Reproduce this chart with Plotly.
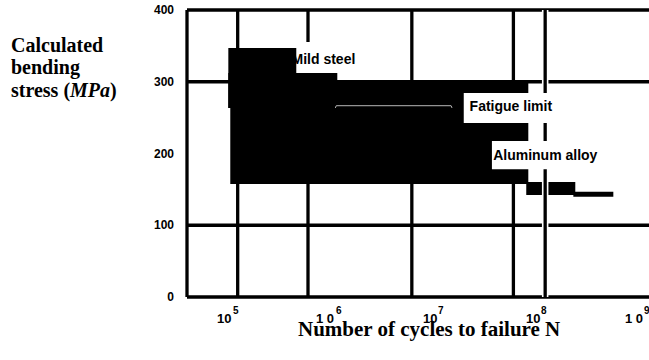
import plotly.graph_objects as go

# ---------------- data ----------------
y_tick_values = [0, 100, 200, 300, 400]
y_tick_labels = ["0", "100", "200", "300", "400"]
x_tick_exponents = [5, 6, 7, 8, 9]
x_tick_bases = ["10", "1 0", "10", "10", "1 0"]

h_grid_values = [300, 100]                       # MPa
v_grid_log = [5.071, 5.755, 6.765, 7.753]        # log10(N)
fatigue_line_log = 8.062                          # log10(N)

# filled (redacted) blocks: log10(N) extent, stress extent (MPa)
block_main_log = [4.999, 7.898]; block_main_mpa = [157.5, 300.5]
block_step_log = [4.980, 6.040]; block_step_mpa = [263.4, 312.2]
block_top_log = [4.980, 5.641];  block_top_mpa = [263.4, 347.0]
block_tail_log = [7.878, 8.355]; block_tail_mpa = [142.2, 160.3]
tail_line_log = [8.336, 8.725];  tail_line_mpa = [143.3, 143.3]
leader_log = [6.021, 6.030, 7.147, 7.156]; leader_mpa = [263.5, 266.6, 266.6, 263.5]

labels = ["Mild steel", "Fatigue limit", "Aluminum alloy"]
label_log = [5.905, 7.728, 8.063]
label_mpa = [330.3, 264.1, 196.1]
label_box_log = [[5.583, 6.284], [7.270, 8.210], [7.544, 8.629]]
label_box_mpa = [[312.2, 355.4], [242.5, 284.3], [178.0, 217.4]]

x_range_log = [4.578, 9.072]
y_range = [0, 400]

# ----------------------------------------------------------------
def p(v):
    return 10 ** v

def rect(xl, yl):
    x0, x1 = p(xl[0]), p(xl[1])
    y0, y1 = yl
    return [x0, x1, x1, x0, x0], [y0, y0, y1, y1, y0]

fig = go.Figure()
LW = 3.3

# gridlines
for v in h_grid_values:
    fig.add_trace(go.Scatter(x=[p(x_range_log[0]), p(x_range_log[1])], y=[v, v], mode="lines",
                             line=dict(color="black", width=LW), hoverinfo="skip", showlegend=False))
for g in v_grid_log:
    fig.add_trace(go.Scatter(x=[p(g), p(g)], y=y_range, mode="lines",
                             line=dict(color="black", width=LW), hoverinfo="skip", showlegend=False))

def block(xl, yl):
    xs, ys = rect(xl, yl)
    fig.add_trace(go.Scatter(x=xs, y=ys, mode="lines", fill="toself", fillcolor="black",
                             line=dict(color="black", width=0), hoverinfo="skip", showlegend=False))

block(block_main_log, block_main_mpa)
block(block_step_log, block_step_mpa)
block(block_tail_log, block_tail_mpa)
fig.add_trace(go.Scatter(x=[p(v) for v in tail_line_log], y=tail_line_mpa, mode="lines",
                         line=dict(color="black", width=5), hoverinfo="skip", showlegend=False))

# thin leader line
fig.add_trace(go.Scatter(x=[p(v) for v in leader_log], y=leader_mpa, mode="lines",
                         line=dict(color="#b8b8b8", width=1), hoverinfo="skip", showlegend=False))

# vertical line with white halo
fig.add_trace(go.Scatter(x=[p(fatigue_line_log)] * 2, y=y_range, mode="lines",
                         line=dict(color="white", width=6.5), hoverinfo="skip", showlegend=False))
fig.add_trace(go.Scatter(x=[p(fatigue_line_log)] * 2, y=y_range, mode="lines",
                         line=dict(color="black", width=LW), hoverinfo="skip", showlegend=False))

# white label boxes
for bl, bm in zip(label_box_log, label_box_mpa):
    xs, ys = rect(bl, bm)
    fig.add_trace(go.Scatter(x=xs, y=ys, mode="lines", fill="toself", fillcolor="white",
                             line=dict(color="white", width=0), hoverinfo="skip", showlegend=False))

fig.add_trace(go.Scatter(x=[p(v) for v in label_log], y=label_mpa, mode="text", text=labels,
                         textposition="middle center",
                         textfont=dict(family="Liberation Sans, Arial", size=14, color="black", weight="bold"),
                         hoverinfo="skip", showlegend=False, cliponaxis=False))

# top block covers part of the "Mild steel" text
block(block_top_log, block_top_mpa)

# plot frame (left, top, bottom)
frame = dict(color="black", width=LW)
shapes = [
    dict(type="line", xref="paper", yref="paper", x0=0, x1=0, y0=0, y1=1, line=frame, layer="below"),
    dict(type="line", xref="paper", yref="paper", x0=0, x1=1, y0=1, y1=1, line=frame, layer="below"),
    dict(type="line", xref="paper", yref="paper", x0=0, x1=1, y0=0, y1=0, line=frame, layer="below"),
]

L, T, W, H = 187, 10, 462, 287
def px(x):
    return (x - L) / W
def py(y):
    return (T + H - y) / H

serif = dict(family="Liberation Serif, Times New Roman", size=20, color="black", weight="bold")
sans_b = dict(family="Liberation Sans, Arial", size=13, color="black", weight="bold")
sans_e = dict(family="Liberation Sans, Arial", size=10, color="black", weight="bold")
annotations = []
for txt, yc in [("Calculated", 44.5), ("bending", 67.5), ("stress (<i>MPa</i>)", 90.0)]:
    annotations.append(dict(text=txt, xref="paper", yref="paper", x=px(9), y=py(yc),
                            xanchor="left", yanchor="middle", showarrow=False, font=serif))
annotations.append(dict(text="Number of cycles to failure N", xref="paper", yref="paper",
                        x=px(429), y=py(329.0), xanchor="center", yanchor="middle",
                        showarrow=False, font=dict(serif, size=21)))

# x tick labels: base "10" and exponent
for e, base in zip(x_tick_exponents, x_tick_bases):
    annotations.append(dict(text=base, xref="x", yref="paper", x=e, y=py(318.0),
                            xanchor="right", yanchor="middle", xshift=2, showarrow=False,
                            font=sans_b, borderpad=0))
    annotations.append(dict(text=str(e), xref="x", yref="paper", x=e, y=py(310.3),
                            xanchor="left", yanchor="middle", xshift=1.5, showarrow=False,
                            font=sans_e, borderpad=0))

fig.update_layout(
    width=649, height=360,
    margin=dict(l=L, r=0, t=T, b=360 - T - H, pad=0),
    plot_bgcolor="white", paper_bgcolor="white",
    shapes=shapes, annotations=annotations,
    xaxis=dict(type="log", range=x_range_log, showgrid=False, zeroline=False, showline=False,
               ticks="", showticklabels=False),
    yaxis=dict(range=y_range, showgrid=False, zeroline=False, showline=False, ticks="",
               tickvals=y_tick_values, ticktext=y_tick_labels,
               tickfont=dict(family="Liberation Sans, Arial", size=12, color="black", weight="bold"),
               ticklabelstandoff=12),
)

fig.write_html("out.html")
